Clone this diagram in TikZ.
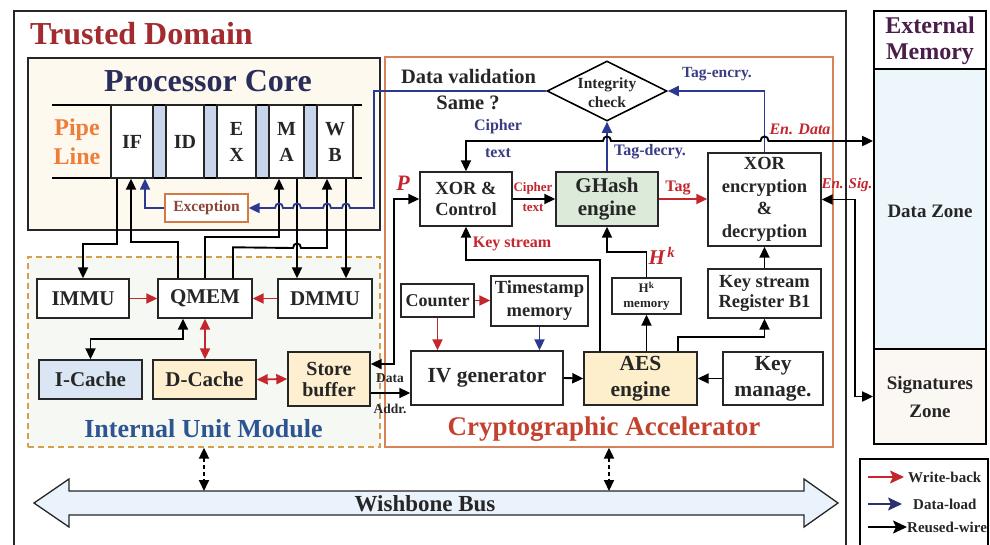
\documentclass[tikz,border=0pt]{standalone}
\usepackage{fontspec}
\setmainfont{Liberation Serif}
\usetikzlibrary{arrows.meta,shapes.geometric,calc}
\definecolor{tdred}{HTML}{A22B2F}
\definecolor{pcblue}{HTML}{2A2C5A}
\definecolor{pipeor}{HTML}{F07C3A}
\definecolor{iumblue}{HTML}{2D5592}
\definecolor{cryred}{HTML}{C4412E}
\definecolor{lblue}{HTML}{3A3D85}
\definecolor{wred}{HTML}{C4262E}
\definecolor{dblue}{HTML}{2B3990}
\definecolor{navy}{HTML}{2B3070}
\definecolor{excbrown}{HTML}{8B4536}
\definecolor{excborder}{HTML}{D47A45}
\definecolor{procfill}{HTML}{FDF9EE}
\definecolor{iumfill}{HTML}{F6F8F3}
\definecolor{iumborder}{HTML}{D4A04D}
\definecolor{cryborder}{HTML}{D9825A}
\definecolor{barfill}{HTML}{C8D5EA}
\definecolor{icfill}{HTML}{DBE6F4}
\definecolor{dcfill}{HTML}{FDEFCF}
\definecolor{ghfill}{HTML}{DCEBD9}
\definecolor{aesfill}{HTML}{FDEFCB}
\definecolor{dzfill}{HTML}{EDF7FB}
\definecolor{szfill}{HTML}{FBF7F3}
\definecolor{busfill}{HTML}{EAF3FB}
\definecolor{emtext}{HTML}{4A1E4A}
\definecolor{boxtxt}{HTML}{262626}
\newcommand{\fsz}[2]{\fontsize{#1pt}{#2pt}\selectfont\bfseries}
\begin{document}
\begin{tikzpicture}[x=1pt,y=-1pt,
  >={Triangle[length=11pt,width=10pt]},
  box/.style={draw=black!85, line width=1.4pt, fill=white, text=boxtxt, inner sep=0pt, align=center},
  lab/.style={inner sep=0pt, align=center},
  wire/.style={line width=1.9pt, draw=black},
  rwire/.style={line width=1.9pt, draw=wred},
  bwire/.style={line width=1.9pt, draw=dblue},
  dwire/.style={line width=1.9pt, draw=black, dash pattern=on 4pt off 3pt},
  legarrow/.style={line width=2pt, -{Stealth[length=14pt,width=13pt,inset=3pt]}}]
\useasboundingbox (0,0) rectangle (990,544);
\fill[white] (0,0) rectangle (990,544);

% Trusted domain
\draw[line width=1.5pt, draw=black!85] (14,11) rectangle (846,570);
\node[lab, anchor=base west, text=tdred, font=\fsz{32}{36}] (td) at (30,44) {Trusted Domain};

% Processor core
\node[draw=black!85, line width=1.5pt, fill=procfill, minimum width=352pt, minimum height=172pt, inner sep=0pt] (PC) at (204,144) {};
\node[lab, anchor=base, text=pcblue, font=\fsz{32}{36}] (pct) at (208,91) {Processor Core};
\node[lab, text=pipeor, font=\fsz{24}{29}] (pl) at (77,142) {Pipe\\Line};
\fill[barfill] (153,105) rectangle (166,178);
\fill[barfill] (204,105) rectangle (217,178);
\fill[barfill] (256,105) rectangle (269,178);
\fill[barfill] (304,105) rectangle (317,178);
\draw[line width=1.4pt] (52,105) -- (362,105);
\draw[line width=1.4pt] (52,178) -- (362,178);
\node[box, minimum width=42pt, minimum height=73pt, font=\fsz{20}{26}] (IF) at (132,141.5) {IF};
\node[box, minimum width=38pt, minimum height=73pt, font=\fsz{20}{26}] (ID) at (185,141.5) {ID};
\node[box, minimum width=39pt, minimum height=73pt, font=\fsz{20}{26}] (EX) at (236.5,141.5) {E\\X};
\node[box, minimum width=35pt, minimum height=73pt, font=\fsz{20}{26}] (MA) at (286.5,141.5) {M\\A};
\node[box, minimum width=36pt, minimum height=73pt, font=\fsz{20}{26}] (WB) at (335,141.5) {W\\B};
\node[box, draw=excborder, line width=1.3pt, text=excbrown, minimum width=83pt, minimum height=28pt, font=\fsz{15.5}{18}] (Exc) at (206.5,208) {Exception};

% Internal unit module
\node[draw=iumborder, dash pattern=on 6pt off 4pt, line width=1.3pt, fill=iumfill, minimum width=352pt, minimum height=190pt, inner sep=0pt] (IUM) at (204,352) {};
\node[lab, anchor=base, text=iumblue, font=\fsz{26}{30}] (iumt) at (203.5,437) {Internal Unit Module};
\node[box, minimum width=92pt, minimum height=39pt, font=\fsz{21}{24}] (IMMU) at (83,298.5) {IMMU};
\node[box, minimum width=94pt, minimum height=39pt, font=\fsz{21}{24}] (QMEM) at (205,298.5) {QMEM};
\node[box, minimum width=94pt, minimum height=39pt, font=\fsz{21}{24}] (DMMU) at (325,298.5) {DMMU};
\node[box, fill=icfill, minimum width=103pt, minimum height=39pt, font=\fsz{21}{24}] (IC) at (90.5,379.5) {I-Cache};
\node[box, fill=dcfill, minimum width=103pt, minimum height=39pt, font=\fsz{21}{24}] (DC) at (204.5,379.5) {D-Cache};
\node[box, fill=dcfill, minimum width=82pt, minimum height=54pt, font=\fsz{20}{21}] (SB) at (329,379) {Store\\buffer};

% Cryptographic accelerator
\node[draw=cryborder, line width=1.3pt, fill=white, minimum width=448pt, minimum height=390pt, inner sep=0pt] (CA) at (609,252) {};
\node[lab, anchor=base, text=cryred, font=\fsz{27}{30}] (cat) at (604,435) {Cryptographic Accelerator};
\node[draw=black, line width=1.6pt, fill=white, diamond, minimum width=120pt, minimum height=60pt, inner sep=0pt] (ic) at (607,91) {};
\node[lab, text=boxtxt, font=\fsz{15.5}{19}] (ict) at (607,93) {Integrity\\check};
\node[box, minimum width=92pt, minimum height=54pt, font=\fsz{18.5}{21}] (XORC) at (466,199) {XOR \&\\Control};
\node[box, fill=ghfill, minimum width=102pt, minimum height=54pt, font=\fsz{21}{23}] (GH) at (607,199) {GHash\\engine};
\node[box, minimum width=113pt, minimum height=93pt, font=\fsz{18.5}{22.5}] (XE) at (764.5,199.5) {XOR\\encryption\\\&\\decryption};
\node[box, minimum width=69pt, minimum height=36pt, font=\fsz{13}{15}] (HK) at (646.5,296) {H\textsuperscript{k}\\memory};
\node[box, minimum width=113pt, minimum height=49pt, font=\fsz{18.5}{20.5}] (KSR) at (764.5,293.5) {Key stream\\Register B1};
\node[box, minimum width=73pt, minimum height=33pt, font=\fsz{18}{20}] (CNT) at (437.5,300.5) {Counter};
\node[box, minimum width=97pt, minimum height=50pt, font=\fsz{18.5}{23}] (TS) at (539.5,301) {Timestamp\\memory};
\node[box, minimum width=152pt, minimum height=54pt, font=\fsz{21.5}{24}] (IV) at (487,378) {IV generator};
\node[box, fill=aesfill, minimum width=113pt, minimum height=53pt, font=\fsz{21.5}{26}] (AES) at (640.5,378.5) {AES\\engine};
\node[box, minimum width=100pt, minimum height=53pt, font=\fsz{21.5}{26}] (KM) at (773,378.5) {Key\\manage.};

% External memory
\node[draw=black, line width=1.8pt, fill=white, minimum width=112pt, minimum height=58pt, inner sep=0pt] (EMT) at (930,40) {};
\node[draw=black, line width=1.8pt, fill=dzfill, minimum width=112pt, minimum height=280pt, inner sep=0pt] (DZ) at (930,209) {};
\node[draw=black, line width=1.8pt, fill=szfill, minimum width=112pt, minimum height=95pt, inner sep=0pt] (SZ) at (930,396.5) {};
\node[lab, text=emtext, font=\fsz{24}{26}] (emt) at (930,41) {External\\Memory};
\node[lab, text=boxtxt, font=\fsz{19}{22}] (dzt) at (930,211) {Data Zone};
\node[lab, text=boxtxt, font=\fsz{19}{28}] (szt) at (930,397) {Signatures\\Zone};

% Processor <-> IUM wires
\coordinate (if1) at ($(IF.south)+(-15,0)$);
\coordinate (if2) at ($(IF.south)+(-1,0)$);
\coordinate (if3) at ($(IF.south)+(13,0)$);
\coordinate (ma1) at ($(MA.south)+(-7.5,0)$);
\coordinate (ma2) at ($(MA.south)+(10.5,0)$);
\coordinate (wb1) at ($(WB.south)+(-8,0)$);
\coordinate (wb2) at ($(WB.south)+(11,0)$);
\coordinate (qm1) at ($(QMEM.north)+(-27,0)$);
\coordinate (qm3) at ($(QMEM.north)+(28,0)$);
\draw[wire,->] (if1) -- ++(0,65) -| (IMMU.north);
\draw[wire,->] (qm1) -- ++(0,-36) -| (if2);
\draw[wire,->] (QMEM.north) -- ++(0,-41) -| (ma1);
\draw[wire,->] (qm3) -- ++(0,-31) -- (293,248) .. controls (293,242) and (301,242) .. (301,248) -| (wb1);
\draw[wire,->] (ma2) -- (ma2 |- DMMU.north);
\draw[wire,->] (wb2) -- (wb2 |- DMMU.north);

% Blue exception path
\draw[bwire,->] (ic.west) -| (374,208) -- (350,208) .. controls (350,202) and (342,202) .. (342,208)
  -- (331,208) .. controls (331,202) and (323,202) .. (323,208)
  -- (301,208) .. controls (301,202) and (293,202) .. (293,208)
  -- (283,208) .. controls (283,202) and (275,202) .. (275,208) -- (Exc.east);
\draw[bwire,->] (Exc.west) -| (if3);

% IUM internal
\draw[rwire,->] (IMMU.east) -- (QMEM.west);
\draw[rwire,->] (DMMU.west) -- (QMEM.east);
\coordinate (qs1) at ($(QMEM.south)+(-22,0)$);
\draw[wire,<->] (IC.north) -- ++(0,-20) -| (qs1);
\draw[rwire,<->] (QMEM.south) -- (QMEM.south |- DC.north);
\draw[rwire,<->] (DC.east) -- (SB.west);

% Store buffer <-> crypto
\draw[wire,<->] ($(SB.east)+(0,-15)$) -- ++(23,0) |- (XORC.west);
\coordinate (sbo) at ($(SB.east)+(0,14)$);
\draw[wire,->] (sbo) -- (sbo -| IV.west);
\node[lab, text=boxtxt, font=\fsz{13.5}{15}] (ldata) at (390,378) {Data};
\node[lab, text=boxtxt, font=\fsz{13.5}{15}] (laddr) at (390,409) {Addr.};
\node[lab, text=wred, font=\fsz{22}{24}\itshape] (lp) at (403,183) {P};

% Crypto wires
\draw[wire,->] (XORC.east) -- (GH.west);
\draw[rwire,->] (GH.east) -- (GH.east -| XE.west);
\draw[bwire,->] (GH.north) -- (ic.south);
\draw[bwire,->] (XE.north) |- (ic.east);
\coordinate (ed) at (466,141);
\draw[wire,<->] (XORC.north) -- (ed) -- (603,141) .. controls (603,135) and (611,135) .. (611,141)
  -- (760.5,141) .. controls (760.5,135) and (768.5,135) .. (768.5,141) -- (ed -| DZ.west);
\draw[wire,<->] (XE.east) -- ++(33,0) |- (SZ.west);
\coordinate (aes1) at ($(AES.north)+(-40.5,0)$);
\coordinate (aes2) at ($(AES.north)+(37.5,0)$);
\draw[wire,->] (aes1) -- ++(0,-91) -| (XORC.south);
\draw[wire,->] (HK.north) -- ++(0,-25) -| (GH.south);
\draw[wire,->] (HK.south |- AES.north) -- (HK.south);
\draw[wire,->] (aes2) -- ++(0,-14) -| (KSR.south);
\draw[wire,->] (KSR.north) -- (XE.south);
\draw[rwire,->] (CNT.east) -- (CNT.east -| TS.west);
\draw[rwire,->] (CNT.south) -- (CNT.south |- IV.north);
\draw[bwire,->] (TS.south) -- (TS.south |- IV.north);
\draw[wire,->] (IV.east) -- (AES.west);
\draw[wire,->] (KM.west) -- (AES.east);

% Crypto labels
\node[lab, text=boxtxt, font=\fsz{20.5}{24}] (ldv) at (468.5,76) {Data validation};
\node[lab, text=boxtxt, font=\fsz{20.5}{24}] (lsame) at (468,103) {Same ?};
\node[lab, text=lblue, font=\fsz{15.5}{18}] (lte) at (717,74) {Tag-encry.};
\node[lab, text=lblue, font=\fsz{16}{18}] (lc1) at (498,127) {Cipher};
\node[lab, text=lblue, font=\fsz{16}{18}] (lc2) at (498,153) {text};
\node[lab, text=lblue, font=\fsz{16}{18}] (ltd) at (650,152) {Tag-decry.};
\node[lab, text=wred, font=\fsz{16}{18}\itshape] (led) at (800,129) {En. Data};
\node[lab, text=wred, font=\fsz{13}{15}] (lc3) at (533,188) {Cipher};
\node[lab, text=wred, font=\fsz{13}{15}] (lc4) at (533,208) {text};
\node[lab, text=wred, font=\fsz{16}{18}] (ltag) at (678,188) {Tag};
\node[lab, text=wred, font=\fsz{15}{17}\itshape] (les) at (847,185) {En. Sig.};
\node[lab, text=wred, font=\fsz{16}{18}] (lks) at (512,244) {Key stream};
\node[lab, text=wred, font=\fsz{21}{24}\itshape] (lhk) at (662,256) {H\textsuperscript{\,k}};

% Wishbone bus
\draw[line width=1.3pt, draw=black!85, fill=busfill] (34,503) -- (69,479) -- (69,491) -- (804,491) -- (804,479) -- (838,503) -- (804,527) -- (804,515) -- (69,515) -- (69,527) -- cycle;
\coordinate (bustop) at (0,491);
\node[lab, anchor=base, text=boxtxt, font=\fsz{23}{26}] (bus) at (425,511) {Wishbone Bus};
\draw[dwire,<->] (IUM.south) -- (IUM.south |- bustop);
\draw[dwire,<->] (CA.south) -- (CA.south |- bustop);

% Legend
\draw[line width=1.8pt] (860,459) rectangle (988,570);
\coordinate (lg1) at (868,477);
\coordinate (lg2) at (868,504);
\coordinate (lg3) at (868,527);
\draw[legarrow, draw=wred, fill=wred] (lg1) -- ++(36,0);
\draw[legarrow, draw=navy, fill=navy] (lg2) -- ++(34,0);
\draw[legarrow, draw=black, fill=black] (lg3) -- ++(39,0);
\node[lab, anchor=west, text=boxtxt, font=\fsz{15}{16}] (lw) at (908,477) {Write-back};
\node[lab, anchor=west, text=boxtxt, font=\fsz{15}{16}] (ld) at (913,504) {Data-load};
\node[lab, anchor=west, text=boxtxt, font=\fsz{15}{16}] (lr) at (907,527) {Reused-wire};
\end{tikzpicture}
\end{document}
